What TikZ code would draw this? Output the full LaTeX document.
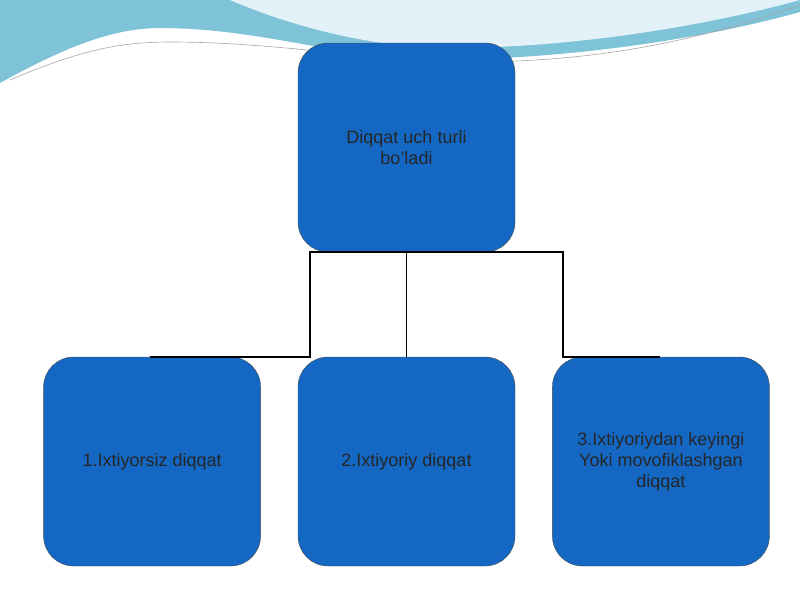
\documentclass[tikz,border=0pt]{standalone}
\usepackage{fontspec}
\setmainfont{Liberation Sans}
\usetikzlibrary{positioning}
\definecolor{boxblue}{HTML}{1468C4}
\definecolor{wavea}{HTML}{7FC3D8}
\definecolor{waveb}{HTML}{E2F2F8}
\tikzset{box/.style={draw=black!70,fill=boxblue,rounded corners=30pt,
  minimum width=217pt,minimum height=209pt,align=center,text=black!85,
  font=\fontsize{18}{21}\selectfont},
  link/.style={line width=1.8pt}}
\begin{document}
\begin{tikzpicture}[x=1pt,y=-1pt]
 \useasboundingbox (0,0) rectangle (800,600);
 % background waves
 \fill[wavea] (0,0) -- (0,83) .. controls (60,50) and (110,28) .. (160,28)
   .. controls (260,28) and (350,60) .. (430,60)
   .. controls (560,60) and (700,40) .. (800,12) -- (800,0) -- cycle;
 \fill[waveb] (230,0) .. controls (300,30) and (380,48) .. (450,48)
   .. controls (560,48) and (690,30) .. (800,0) -- cycle;
 \draw[gray!70,line width=0.6pt] (10,80) .. controls (80,50) and (120,42) .. (170,42)
   .. controls (280,42) and (380,62) .. (470,62)
   .. controls (600,62) and (700,40) .. (800,5);
 % nodes
 \node[box] (top) at (406.5,147.5) {Diqqat uch turli\\ bo'ladi};
 \node[box] (mid) at (406.5,461.5) {2.Ixtiyoriy diqqat};
 \node[box,left=37pt of mid] (left) {1.Ixtiyorsiz diqqat};
 \node[box,right=37pt of mid] (right) {3.Ixtiyoriydan keyingi\\Yoki movofiklashgan\\diqqat};
 % connectors
 \coordinate (la) at (150,357);
 \coordinate (ra) at (660,357);
 \draw[link] (mid.north) -- (mid.north |- top.south);
 \draw[link] (la) -- (310,357) -- (310,252) -- (563,252) -- (563,357) -- (ra);
\end{tikzpicture}
\end{document}
